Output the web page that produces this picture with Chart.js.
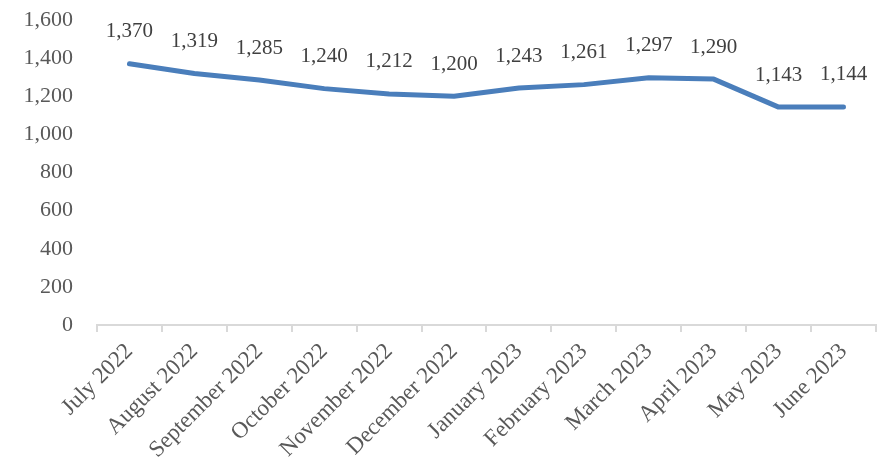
<!DOCTYPE html>
<html>
<head>
<meta charset="utf-8">
<script src="https://cdn.jsdelivr.net/npm/chart.js@4"></script>
<style>
  html, body { margin: 0; padding: 0; background: #fff; }
  #wrap { width: 884px; height: 473px; }
</style>
</head>
<body>
<div id="wrap"><canvas id="lineChart" width="884" height="473"></canvas></div>
<script>
// months on the x axis
const months = ['July 2022', 'August 2022', 'September 2022', 'October 2022', 'November 2022', 'December 2022',
  'January 2023', 'February 2023', 'March 2023', 'April 2023', 'May 2023', 'June 2023'];
// values
const counts = [1370, 1319, 1285, 1240, 1212, 1200, 1243, 1261, 1297, 1290, 1143, 1144];

const textGrey = '#595959';
const serif = "'Liberation Serif', 'DejaVu Serif', serif";

// small plugin for the number above each point
const pointLabels = {
  id: 'pointLabels',
  afterDatasetsDraw(chart) {
    const ctx = chart.ctx;
    const meta = chart.getDatasetMeta(0);
    ctx.save();
    ctx.font = '21px ' + serif;
    ctx.fillStyle = '#404040';
    ctx.textAlign = 'center';
    ctx.textBaseline = 'middle';
    meta.data.forEach((pt, i) => {
      ctx.fillText(counts[i].toLocaleString('en-US'), pt.x, pt.y - 32);
    });
    ctx.restore();
  }
};

new Chart(document.getElementById('lineChart'), {
  type: 'line',
  data: {
    labels: months,
    datasets: [{
      data: counts,
      borderColor: '#4a7ebb',
      borderWidth: 5,
      pointRadius: 0,
      tension: 0,
      borderCapStyle: 'round',
      borderJoinStyle: 'round'
    }]
  },
  options: {
    responsive: false,
    animation: false,
    layout: { padding: { top: 20, right: 8, left: 0, bottom: 0 } },
    plugins: { legend: { display: false }, tooltip: { enabled: false } },
    scales: {
      x: {
        offset: true,
        grid: { offset: true, drawOnChartArea: false, drawTicks: true, tickLength: 7, color: '#d9d9d9', lineWidth: 2 },
        border: { display: true, color: '#d9d9d9', width: 2 },
        ticks: {
          color: textGrey,
          font: { family: serif, size: 23 },
          maxRotation: 45,
          minRotation: 45,
          padding: 6,
          autoSkip: false
        },
        afterFit(scale) { scale.height = 148; }
      },
      y: {
        min: 0,
        max: 1600,
        grid: { display: false },
        border: { display: false },
        ticks: {
          stepSize: 200,
          color: textGrey,
          font: { family: serif, size: 22 },
          padding: 16,
          callback: (v) => v.toLocaleString('en-US')
        },
        afterFit(scale) { scale.width = 97; scale.paddingTop = 0; }
      }
    }
  },
  plugins: [pointLabels]
});
</script>
</body>
</html>
